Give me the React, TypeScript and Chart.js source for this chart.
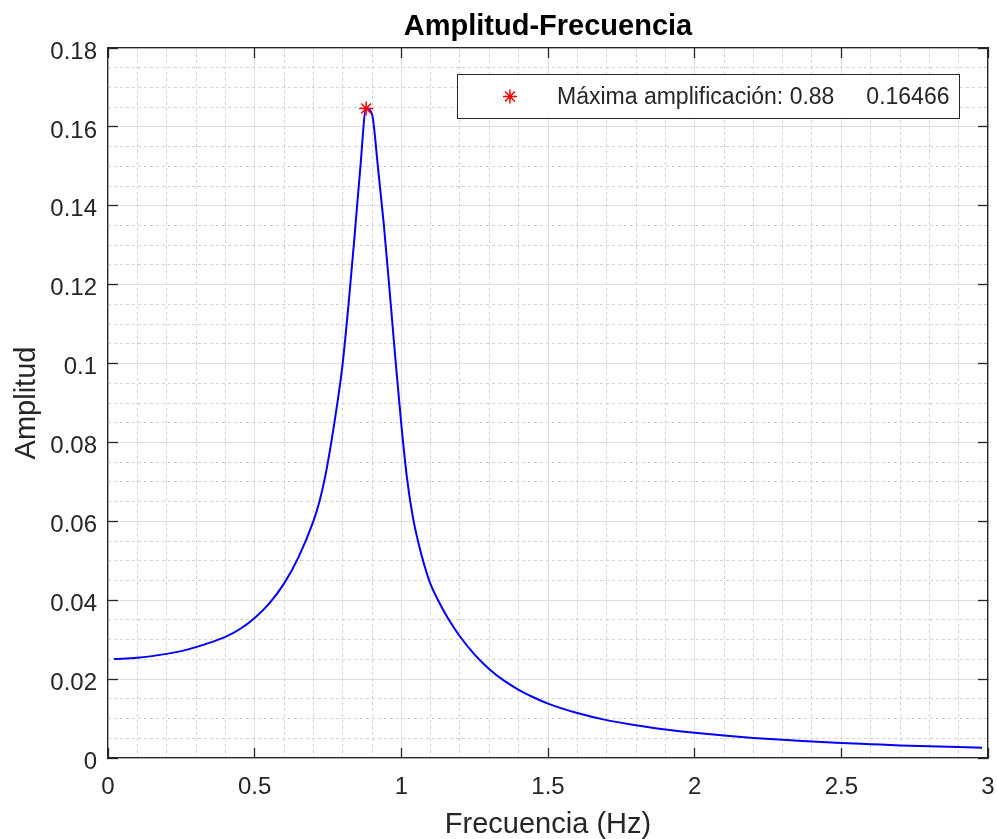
import React, { useEffect, useRef } from 'react';
import { Chart, registerables } from 'chart.js';

Chart.register(...registerables);

// Frequency (Hz) and response amplitude
const freqHz = [
  0.02, 0.1, 0.2, 0.25, 0.3, 0.35, 0.4, 0.45, 0.5, 0.55, 0.6, 0.65, 0.7, 0.72, 0.74,
  0.76, 0.78, 0.8, 0.82, 0.84, 0.86, 0.88, 0.9, 0.92, 0.94, 0.96, 0.98, 1.0, 1.02,
  1.04, 1.06, 1.08, 1.1, 1.13, 1.16, 1.2, 1.25, 1.3, 1.35, 1.4, 1.45, 1.5, 1.6, 1.7,
  1.8, 1.9, 2.0, 2.1, 2.2, 2.3, 2.4, 2.5, 2.6, 2.7, 2.8, 2.9, 2.98,
];
const amplitude = [
  0.0251, 0.0254, 0.0264, 0.0271, 0.0281, 0.0293, 0.0307, 0.0327, 0.0355, 0.0392,
  0.0442, 0.051, 0.06, 0.0648, 0.0712, 0.0795, 0.089, 0.1, 0.115, 0.1318, 0.1495,
  0.16466, 0.1632, 0.15, 0.1355, 0.1185, 0.101, 0.0845, 0.0705, 0.0608, 0.054, 0.0485,
  0.044, 0.0393, 0.0353, 0.0308, 0.0262, 0.0225, 0.0196, 0.0173, 0.0154, 0.0138,
  0.0114, 0.0096, 0.0083, 0.0072, 0.0064, 0.0057, 0.0051, 0.0046, 0.0042, 0.0038,
  0.0035, 0.0032, 0.003, 0.0028, 0.0026,
];

// Peak marker
const peakFreq = [0.88];
const peakAmp = [0.16466];

// Major ticks
const xTickValues = [0, 0.5, 1, 1.5, 2, 2.5, 3];
const yTickValues = [0, 0.02, 0.04, 0.06, 0.08, 0.1, 0.12, 0.14, 0.16, 0.18];

const FONT = "'Liberation Sans', Arial, Helvetica, sans-serif";
const INK = '#262626';
const MAJOR_GRID = '#dedede';
const MINOR_GRID = '#d2d2d2';

const fmt = (v: number | string) => String(parseFloat(Number(v).toFixed(4)));
const isMajor = (v: number, step: number) => Math.abs(v / step - Math.round(v / step)) < 1e-6;

const legendPlugin = {
  id: 'peakLegend',
  afterDraw(chart: any) {
    const { ctx, chartArea } = chart;
    const ds = chart.data.datasets[1];
    ctx.save();
    ctx.font = `23px ${FONT}`;
    const text = ds.label as string;
    const w = ctx.measureText(text).width;
    const boxW = Math.round(w + 110);
    const boxH = 44;
    const right = Math.round(chartArea.right - 29);
    const top = Math.round(chartArea.top + 26);
    const left = right - boxW;
    ctx.fillStyle = '#ffffff';
    ctx.fillRect(left, top, boxW, boxH);
    ctx.strokeStyle = INK;
    ctx.lineWidth = 1;
    ctx.strokeRect(left + 0.5, top + 0.5, boxW, boxH);
    // star marker sample
    const cx = left + 53;
    const cy = top + 22.5;
    const r = 7;
    const d = r * Math.SQRT1_2;
    ctx.strokeStyle = ds.borderColor;
    ctx.lineWidth = 1.5;
    ctx.beginPath();
    ctx.moveTo(cx - r, cy); ctx.lineTo(cx + r, cy);
    ctx.moveTo(cx, cy - r); ctx.lineTo(cx, cy + r);
    ctx.moveTo(cx - d, cy - d); ctx.lineTo(cx + d, cy + d);
    ctx.moveTo(cx - d, cy + d); ctx.lineTo(cx + d, cy - d);
    ctx.stroke();
    ctx.fillStyle = INK;
    ctx.textAlign = 'left';
    ctx.textBaseline = 'middle';
    ctx.fillText(text, left + 100, top + 24);
    ctx.restore();
  },
};

export default function App() {
  const canvasRef = useRef<HTMLCanvasElement | null>(null);

  useEffect(() => {
    document.body.style.margin = '0';
    document.body.style.overflow = 'hidden';
    const canvas = canvasRef.current;
    if (!canvas) return;

    const tickFont = { family: FONT, size: 24 };
    const labelFont = { family: FONT, size: 29, lineHeight: 1 };

    const chart = new Chart(canvas, {
      type: 'scatter',
      data: {
        datasets: [
          {
            label: 'Amplitud',
            data: freqHz.map((f, i) => ({ x: f, y: amplitude[i] })),
            showLine: true,
            borderColor: '#0000ff',
            borderWidth: 2,
            pointRadius: 0,
            cubicInterpolationMode: 'monotone',
            order: 1,
          },
          {
            label: `Máxima amplificación: ${peakFreq[0]}     ${peakAmp[0]}`,
            data: peakFreq.map((f, i) => ({ x: f, y: peakAmp[i] })),
            showLine: false,
            pointStyle: 'star',
            pointRadius: 7,
            borderColor: '#ff0000',
            backgroundColor: '#ff0000',
            pointBorderWidth: 1.5,
            borderWidth: 1.5,
            order: 0,
          },
        ],
      },
      options: {
        responsive: false,
        animation: false,
        events: [],
        layout: { padding: { top: 0, right: 9, bottom: 0, left: 0 } },
        plugins: {
          legend: { display: false },
          tooltip: { enabled: false },
          title: {
            display: true,
            fullSize: false,
            text: 'Amplitud-Frecuencia',
            color: '#000000',
            font: { family: FONT, size: 29, weight: 'bold', lineHeight: 1.2 },
            padding: { top: 10, bottom: 3.2 },
          },
        },
        scales: {
          x: {
            type: 'linear',
            position: 'bottom',
            min: 0,
            max: 3,
            afterBuildTicks: (s: any) => {
              s.ticks = xTickValues.map((v) => ({ value: v }));
            },
            afterFit: (s: any) => {
              s.height = 81;
              s.paddingLeft = 0;
              s.paddingRight = 0;
            },
            ticks: {
              callback: (v: any) => fmt(v),
              font: tickFont,
              color: INK,
              padding: 25,
              maxRotation: 0,
              autoSkip: false,
            },
            grid: {
              color: MAJOR_GRID,
              lineWidth: 1,
              drawTicks: true,
              tickLength: -10,
              tickColor: INK,
              tickWidth: 1.3,
            },
            border: { display: true, color: INK, width: 1.3 },
            title: {
              display: true,
              text: 'Frecuencia (Hz)',
              font: labelFont,
              color: INK,
              padding: { top: 0, bottom: 0 },
            },
          },
          y: {
            type: 'linear',
            position: 'left',
            min: 0,
            max: 0.18,
            afterBuildTicks: (s: any) => {
              s.ticks = yTickValues.map((v) => ({ value: v }));
            },
            afterFit: (s: any) => {
              s.width = 108;
              s.paddingTop = 0;
              s.paddingBottom = 0;
            },
            ticks: {
              callback: (v: any) => fmt(v),
              font: tickFont,
              color: INK,
              padding: 21,
              labelOffset: 4,
              autoSkip: false,
            },
            grid: {
              color: MAJOR_GRID,
              lineWidth: 1,
              drawTicks: true,
              tickLength: -10,
              tickColor: INK,
              tickWidth: 1.3,
            },
            border: { display: true, color: INK, width: 1.3 },
            title: {
              display: true,
              text: 'Amplitud',
              font: labelFont,
              color: INK,
              padding: { top: 12, bottom: 0 },
            },
          },
          xMinor: {
            type: 'linear',
            position: 'bottom',
            min: 0,
            max: 3,
            ticks: { stepSize: 0.1, display: false },
            afterFit: (s: any) => {
              s.height = 0;
              s.paddingLeft = 0;
              s.paddingRight = 0;
            },
            grid: {
              color: (c: any) => (isMajor(c.tick.value, 0.5) ? 'rgba(0,0,0,0)' : MINOR_GRID),
              lineWidth: 1,
              drawTicks: false,
              borderDash: [3, 3],
            },
            border: { display: false, dash: [3, 3] },
          },
          yMinor: {
            type: 'linear',
            position: 'left',
            min: 0,
            max: 0.18,
            ticks: { stepSize: 0.005, display: false },
            afterFit: (s: any) => {
              s.width = 0;
              s.paddingTop = 0;
              s.paddingBottom = 0;
            },
            grid: {
              color: (c: any) => (isMajor(c.tick.value, 0.02) ? 'rgba(0,0,0,0)' : MINOR_GRID),
              lineWidth: 1,
              drawTicks: false,
              borderDash: [3, 3],
            },
            border: { display: false, dash: [3, 3] },
          },
          xTop: {
            type: 'linear',
            position: 'top',
            min: 0,
            max: 3,
            afterBuildTicks: (s: any) => {
              s.ticks = xTickValues.map((v) => ({ value: v }));
            },
            afterFit: (s: any) => {
              s.height = 0;
              s.paddingLeft = 0;
              s.paddingRight = 0;
            },
            ticks: { display: false },
            grid: {
              drawOnChartArea: false,
              drawTicks: true,
              tickLength: -10,
              tickColor: INK,
              tickWidth: 1.3,
            },
            border: { display: true, color: INK, width: 1.3 },
          },
          yRight: {
            type: 'linear',
            position: 'right',
            min: 0,
            max: 0.18,
            afterBuildTicks: (s: any) => {
              s.ticks = yTickValues.map((v) => ({ value: v }));
            },
            afterFit: (s: any) => {
              s.width = 0;
              s.paddingTop = 0;
              s.paddingBottom = 0;
            },
            ticks: { display: false },
            grid: {
              drawOnChartArea: false,
              drawTicks: true,
              tickLength: -10,
              tickColor: INK,
              tickWidth: 1.3,
            },
            border: { display: true, color: INK, width: 1.3 },
          },
        },
      } as any,
      plugins: [legendPlugin],
    });

    return () => {
      chart.destroy();
    };
  }, []);

  return (
    <div style={{ width: 997, height: 839, position: 'relative', background: '#ffffff' }}>
      <canvas ref={canvasRef} width={997} height={839} style={{ display: 'block' }} />
    </div>
  );
}
